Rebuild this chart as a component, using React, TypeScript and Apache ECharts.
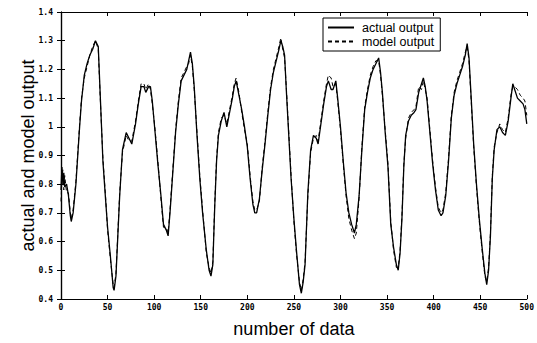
import React, { useEffect, useRef } from "react";
import * as echarts from "echarts";

// sample index (number of data)
const dataX = [
  0, 1, 2, 3, 4, 6, 8, 10, 11, 13,
  16, 18, 20, 22, 25, 28, 31, 34, 37, 40,
  42, 45, 48, 50, 53, 56, 57, 59, 61, 63,
  66, 70, 73, 76, 80, 83, 86, 89, 91, 94,
  96, 98, 101, 104, 107, 110, 113, 115, 117, 120,
  123, 126, 129, 132, 135, 137, 139, 141, 143, 146,
  149, 152, 156, 159, 161, 163, 165, 167, 169, 172,
  175, 178, 181, 184, 186, 188, 191, 194, 197, 200,
  203, 206, 208, 210, 213, 216, 219, 222, 225, 228,
  231, 234, 236, 238, 240, 242, 244, 247, 250, 253,
  256, 258, 260, 262, 265, 268, 271, 274, 276, 279,
  282, 285, 287, 290, 292, 295, 297, 300, 303, 306,
  309, 312, 315, 317, 320, 323, 326, 329, 332, 335,
  338, 341, 343, 345, 348, 351, 354, 357, 360, 362,
  364, 366, 368, 370, 373, 376, 379, 381, 384, 387,
  389, 391, 393, 396, 399, 402, 405, 408, 410, 413,
  416, 419, 422, 425, 428, 431, 434, 436, 438, 440,
  443, 446, 449, 452, 455, 457, 459, 461, 463, 465,
  468, 471, 474, 477, 480, 483, 485, 487, 490, 493,
  496, 498, 500,
];

const actualOutput = [
  0.78, 0.86, 0.80, 0.84, 0.79, 0.80, 0.76, 0.69, 0.67, 0.70,
  0.80, 0.90, 1.00, 1.09, 1.18, 1.22, 1.25, 1.27, 1.30, 1.28,
  1.12, 0.88, 0.74, 0.65, 0.55, 0.44, 0.43, 0.48, 0.62, 0.76,
  0.92, 0.98, 0.96, 0.94, 1.01, 1.08, 1.14, 1.14, 1.12, 1.14,
  1.14, 1.09, 0.98, 0.87, 0.77, 0.66, 0.64, 0.62, 0.70, 0.84,
  0.98, 1.08, 1.16, 1.18, 1.20, 1.23, 1.26, 1.22, 1.14, 0.97,
  0.82, 0.70, 0.57, 0.50, 0.48, 0.52, 0.72, 0.88, 0.97, 1.02,
  1.05, 1.00, 1.05, 1.10, 1.14, 1.16, 1.11, 1.06, 1.00, 0.93,
  0.82, 0.73, 0.70, 0.70, 0.75, 0.85, 0.94, 1.04, 1.13, 1.19,
  1.23, 1.27, 1.30, 1.28, 1.25, 1.12, 1.00, 0.82, 0.68, 0.56,
  0.45, 0.42, 0.46, 0.52, 0.77, 0.92, 0.97, 0.96, 0.94, 1.01,
  1.08, 1.14, 1.16, 1.13, 1.13, 1.16, 1.10, 1.00, 0.88, 0.77,
  0.70, 0.66, 0.63, 0.66, 0.76, 0.92, 1.06, 1.12, 1.17, 1.20,
  1.22, 1.24, 1.19, 1.12, 0.98, 0.86, 0.66, 0.58, 0.52, 0.50,
  0.56, 0.68, 0.86, 0.97, 1.02, 1.04, 1.05, 1.06, 1.12, 1.15,
  1.17, 1.14, 1.09, 0.98, 0.87, 0.78, 0.71, 0.69, 0.70, 0.76,
  0.88, 1.03, 1.11, 1.15, 1.18, 1.21, 1.25, 1.29, 1.24, 1.12,
  0.94, 0.80, 0.68, 0.58, 0.49, 0.45, 0.50, 0.62, 0.82, 0.92,
  0.99, 1.00, 0.98, 0.97, 1.02, 1.10, 1.15, 1.13, 1.10, 1.09,
  1.08, 1.06, 1.01,
];

const modelOutput = [
  0.74, 0.82, 0.85, 0.78, 0.83, 0.77, 0.77, 0.70, 0.68, 0.71,
  0.81, 0.91, 1.01, 1.10, 1.17, 1.21, 1.25, 1.28, 1.30, 1.27,
  1.11, 0.89, 0.75, 0.64, 0.54, 0.45, 0.44, 0.49, 0.63, 0.77,
  0.91, 0.97, 0.95, 0.95, 1.02, 1.09, 1.15, 1.15, 1.13, 1.15,
  1.13, 1.08, 0.99, 0.88, 0.76, 0.65, 0.65, 0.63, 0.71, 0.85,
  0.99, 1.09, 1.17, 1.19, 1.21, 1.22, 1.25, 1.21, 1.13, 0.98,
  0.83, 0.71, 0.56, 0.51, 0.49, 0.53, 0.73, 0.89, 0.98, 1.03,
  1.04, 1.01, 1.06, 1.11, 1.15, 1.17, 1.12, 1.05, 0.99, 0.94,
  0.83, 0.74, 0.71, 0.71, 0.74, 0.86, 0.95, 1.05, 1.14, 1.20,
  1.24, 1.28, 1.31, 1.27, 1.24, 1.13, 1.01, 0.83, 0.67, 0.55,
  0.46, 0.43, 0.47, 0.53, 0.76, 0.91, 0.96, 0.97, 0.95, 1.02,
  1.09, 1.15, 1.18, 1.17, 1.14, 1.15, 1.09, 0.99, 0.87, 0.76,
  0.68, 0.64, 0.61, 0.63, 0.75, 0.93, 1.07, 1.13, 1.18, 1.21,
  1.23, 1.23, 1.18, 1.11, 0.99, 0.87, 0.67, 0.57, 0.51, 0.51,
  0.57, 0.69, 0.87, 0.96, 1.03, 1.05, 1.06, 1.07, 1.14, 1.13,
  1.16, 1.13, 1.10, 0.99, 0.88, 0.79, 0.72, 0.70, 0.71, 0.77,
  0.89, 1.04, 1.12, 1.16, 1.19, 1.22, 1.26, 1.28, 1.23, 1.11,
  0.93, 0.79, 0.67, 0.57, 0.48, 0.46, 0.51, 0.63, 0.83, 0.93,
  0.98, 1.01, 0.99, 0.98, 1.03, 1.11, 1.14, 1.14, 1.13, 1.11,
  1.10, 1.09, 1.04,
];

const seriesNames = ["actual output", "model output"];
const xTitle = "number of data";
const yTitle = "actual and model output";

export default function App() {
  const ref = useRef<HTMLDivElement>(null);

  useEffect(() => {
    if (!ref.current) return;
    const chart = echarts.init(ref.current, undefined, { renderer: "svg" });
    const tickLabel = {
      color: "#000",
      fontFamily: "DejaVu Sans Mono",
      fontWeight: "bold" as const,
      fontSize: 8,
    };
    const axisLine = { show: true, lineStyle: { color: "#000", width: 1.2 } };
    const axisTick = { show: true, inside: true, length: 4, lineStyle: { color: "#000", width: 1 } };
    chart.setOption({
      animation: false,
      backgroundColor: "#fff",
      grid: { left: 61, right: 9, top: 12, bottom: 44, containLabel: false },
      legend: {
        orient: "vertical",
        left: 323,
        top: 18,
        padding: [3, 6, 3, 4],
        itemGap: 1,
        itemWidth: 26,
        itemHeight: 12,
        backgroundColor: "#fff",
        borderColor: "#000",
        borderWidth: 1,
        borderRadius: 0,
        itemStyle: { opacity: 0, color: "rgba(0,0,0,0)", borderWidth: 0 },
        textStyle: { color: "#000", fontFamily: "Liberation Sans", fontSize: 12.5, padding: [0, 0, 0, 3] },
        data: seriesNames,
      },
      xAxis: [
        {
          type: "value",
          position: "bottom",
          min: 0,
          max: 500,
          interval: 50,
          name: xTitle,
          nameLocation: "middle",
          nameGap: 21,
          nameMoveOverlap: false,
          nameTextStyle: { color: "#000", fontFamily: "Liberation Sans", fontSize: 18 },
          axisLine,
          axisTick,
          axisLabel: { ...tickLabel, margin: 4 },
          splitLine: { show: false },
        },
        {
          type: "value",
          position: "top",
          min: 0,
          max: 500,
          interval: 50,
          axisLine,
          axisTick,
          axisLabel: { show: false },
          splitLine: { show: false },
        },
      ],
      yAxis: [
        {
          type: "value",
          position: "left",
          min: 0.4,
          max: 1.4,
          interval: 0.1,
          name: yTitle,
          nameLocation: "middle",
          nameGap: 24,
          nameMoveOverlap: false,
          nameTextStyle: { color: "#000", fontFamily: "Liberation Sans", fontSize: 18 },
          axisLine,
          axisTick,
          axisLabel: {
            ...tickLabel,
            margin: 8,
            formatter: (v: number) => (Math.abs(v - 1) < 1e-9 ? "1" : v.toFixed(1)),
          },
          splitLine: { show: false },
        },
        {
          type: "value",
          position: "right",
          min: 0.4,
          max: 1.4,
          interval: 0.1,
          axisLine,
          axisTick,
          axisLabel: { show: false },
          splitLine: { show: false },
        },
      ],
      series: [
        {
          name: seriesNames[0],
          type: "line",
          xAxisIndex: 0,
          yAxisIndex: 0,
          symbol: "none",
          lineStyle: { color: "#000", width: 1.3, type: "solid" },
          itemStyle: { color: "#000" },
          data: dataX.map((x, i) => [x, actualOutput[i]]),
        },
        {
          name: seriesNames[1],
          type: "line",
          xAxisIndex: 0,
          yAxisIndex: 0,
          symbol: "none",
          lineStyle: { color: "#000", width: 1, type: [4, 3] },
          itemStyle: { color: "#000" },
          data: dataX.map((x, i) => [x, modelOutput[i]]),
        },
      ],
    });
    return () => chart.dispose();
  }, []);

  return <div ref={ref} style={{ width: 537, height: 343, position: "absolute", left: 0, top: 0 }} />;
}
